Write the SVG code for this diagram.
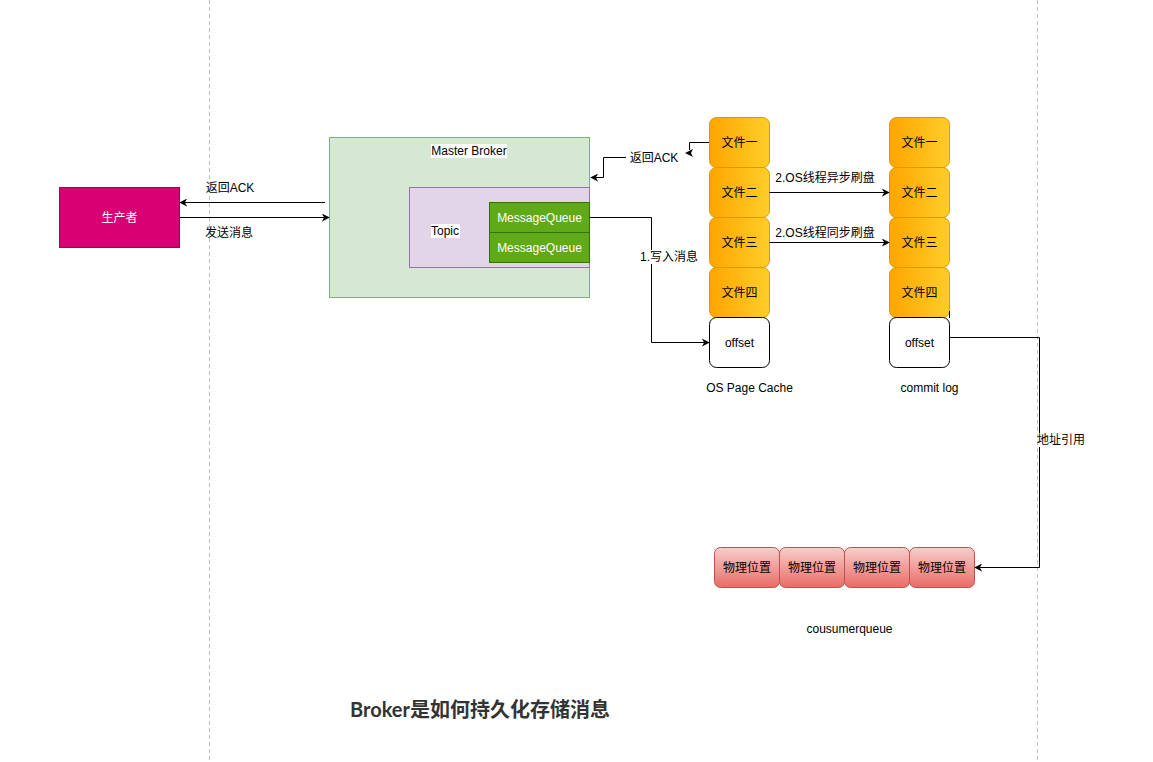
<svg xmlns="http://www.w3.org/2000/svg" width="1153" height="762" viewBox="0 0 1153 762">
<style>
text{font-family:"Liberation Sans","Noto Sans CJK SC",sans-serif;font-size:12px;fill:#000;text-anchor:middle;dominant-baseline:central}
.w{fill:#fff}
.edge{fill:none;stroke:#000;stroke-width:1}
.file{fill:url(#og);stroke:#d79b00}
.pos{fill:url(#rg);stroke:#b85450}
</style>
<defs>
<linearGradient id="og" x1="0" y1="0" x2="1" y2="0"><stop offset="0" stop-color="#ffa500"/><stop offset="1" stop-color="#ffcd28"/></linearGradient>
<linearGradient id="rg" x1="0" y1="0" x2="0" y2="1"><stop offset="0" stop-color="#f8cecc"/><stop offset="1" stop-color="#ea6b66"/></linearGradient>
<marker id="ar" viewBox="0 0 10 10" refX="9" refY="5" markerWidth="8" markerHeight="8" markerUnits="userSpaceOnUse" orient="auto"><path d="M0,0 L10,5 L0,10 L3,5 Z" fill="#000"/></marker>
</defs>
<rect width="1153" height="762" fill="#fff"/>
<line x1="209.5" y1="0" x2="209.5" y2="762" stroke="#c0c0c0" stroke-dasharray="4 3"/>
<line x1="1037.5" y1="0" x2="1037.5" y2="762" stroke="#c0c0c0" stroke-dasharray="4 3"/>

<g id="producer"><rect x="59.5" y="187.5" width="120" height="60" fill="#d80073" stroke="#a50040"/><text x="119.5" y="217.5" class="w">生产者</text></g>
<g id="master-broker"><rect x="329.5" y="137.5" width="260" height="160" fill="#d5e8d4" stroke="#82b366"/><rect x="431" y="144" width="76" height="14" fill="#fff"/><text x="469" y="151">Master Broker</text></g>
<g id="topic"><rect x="409.5" y="187.5" width="180" height="80" fill="#e1d5e7" stroke="#9673a6"/><rect x="431" y="224" width="29" height="14" fill="#fff"/><text x="445" y="231">Topic</text></g>
<g id="mq1"><rect x="489.5" y="202.5" width="100" height="30" fill="#60a917" stroke="#2d7600"/><text x="539.5" y="217.5" class="w">MessageQueue</text></g>
<g id="mq2"><rect x="489.5" y="232.5" width="100" height="30" fill="#60a917" stroke="#2d7600"/><text x="539.5" y="247.5" class="w">MessageQueue</text></g>

<g id="cache-f1"><rect x="709.5" y="117.5" width="60" height="50" rx="7" class="file"/><text x="739.5" y="142.5">文件一</text></g>
<g id="cache-f2"><rect x="709.5" y="167.5" width="60" height="50" rx="7" class="file"/><text x="739.5" y="192.5">文件二</text></g>
<g id="cache-f3"><rect x="709.5" y="217.5" width="60" height="50" rx="7" class="file"/><text x="739.5" y="242.5">文件三</text></g>
<g id="cache-f4"><rect x="709.5" y="267.5" width="60" height="50" rx="7" class="file"/><text x="739.5" y="292.5">文件四</text></g>
<g id="cache-offset"><rect x="709.5" y="317.5" width="60" height="50" rx="7" fill="#fff" stroke="#000"/><text x="739.5" y="342.5">offset</text></g>
<g id="cache-label"><text x="749.5" y="387.5">OS Page Cache</text></g>

<g id="log-f1"><rect x="889.5" y="117.5" width="60" height="50" rx="7" class="file"/><text x="919.5" y="142.5">文件一</text></g>
<g id="log-f2"><rect x="889.5" y="167.5" width="60" height="50" rx="7" class="file"/><text x="919.5" y="192.5">文件二</text></g>
<g id="log-f3"><rect x="889.5" y="217.5" width="60" height="50" rx="7" class="file"/><text x="919.5" y="242.5">文件三</text></g>
<g id="log-f4"><rect x="889.5" y="267.5" width="60" height="50" rx="7" class="file"/><text x="919.5" y="292.5">文件四</text></g>
<g id="log-offset"><rect x="889.5" y="317.5" width="60" height="50" rx="7" fill="#fff" stroke="#000"/><text x="919.5" y="342.5">offset</text></g>
<g id="log-label"><text x="929.5" y="387.5">commit log</text></g>

<g id="pos1"><rect x="714.5" y="547.5" width="65" height="40" rx="6" class="pos"/><text x="747" y="567.5">物理位置</text></g>
<g id="pos2"><rect x="779.5" y="547.5" width="65" height="40" rx="6" class="pos"/><text x="812" y="567.5">物理位置</text></g>
<g id="pos3"><rect x="844.5" y="547.5" width="65" height="40" rx="6" class="pos"/><text x="877" y="567.5">物理位置</text></g>
<g id="pos4"><rect x="909.5" y="547.5" width="65" height="40" rx="6" class="pos"/><text x="942" y="567.5">物理位置</text></g>
<g id="cq-label"><text x="849.5" y="628.5">cousumerqueue</text></g>

<g id="title"><text x="480" y="709" style="font-family:'Lato','Noto Sans CJK SC',sans-serif;font-size:20px;font-weight:bold;fill:#333">Broker是如何持久化存储消息</text></g>

<g id="connectors">
<path class="edge" d="M325,202.5 H180" marker-end="url(#ar)"/>
<text x="230" y="187.5">返回ACK</text>
<path class="edge" d="M180,217.5 H329" marker-end="url(#ar)"/>
<text x="229" y="232.5">发送消息</text>

<path class="edge" d="M589.5,217.5 H651.5 V342.5 H709" marker-end="url(#ar)"/>
<rect x="640" y="250" width="58" height="14" fill="#fff"/>
<text x="669" y="257">1.写入消息</text>

<path class="edge" d="M709,142.5 H689.5 V150"/>
<path d="M685,153 L693,149 L691,153 L693,157 Z" fill="#000"/>
<path class="edge" d="M626,157.5 H603.5 V177.5 H591" marker-end="url(#ar)"/>
<text x="654" y="157.5">返回ACK</text>

<path class="edge" d="M769.5,192.5 H889" marker-end="url(#ar)"/>
<text x="825" y="177.5">2.OS线程异步刷盘</text>
<path class="edge" d="M769.5,242.5 H889" marker-end="url(#ar)"/>
<text x="825" y="232.5">2.OS线程同步刷盘</text>

<path class="edge" d="M949.5,311 V318"/>
<path class="edge" d="M949.5,337.5 H1039.5 V567.5 H975" marker-end="url(#ar)"/>
<rect x="1039" y="433" width="44" height="14" fill="#fff"/>
<text x="1061" y="440">地址引用</text>
</g>
</svg>
